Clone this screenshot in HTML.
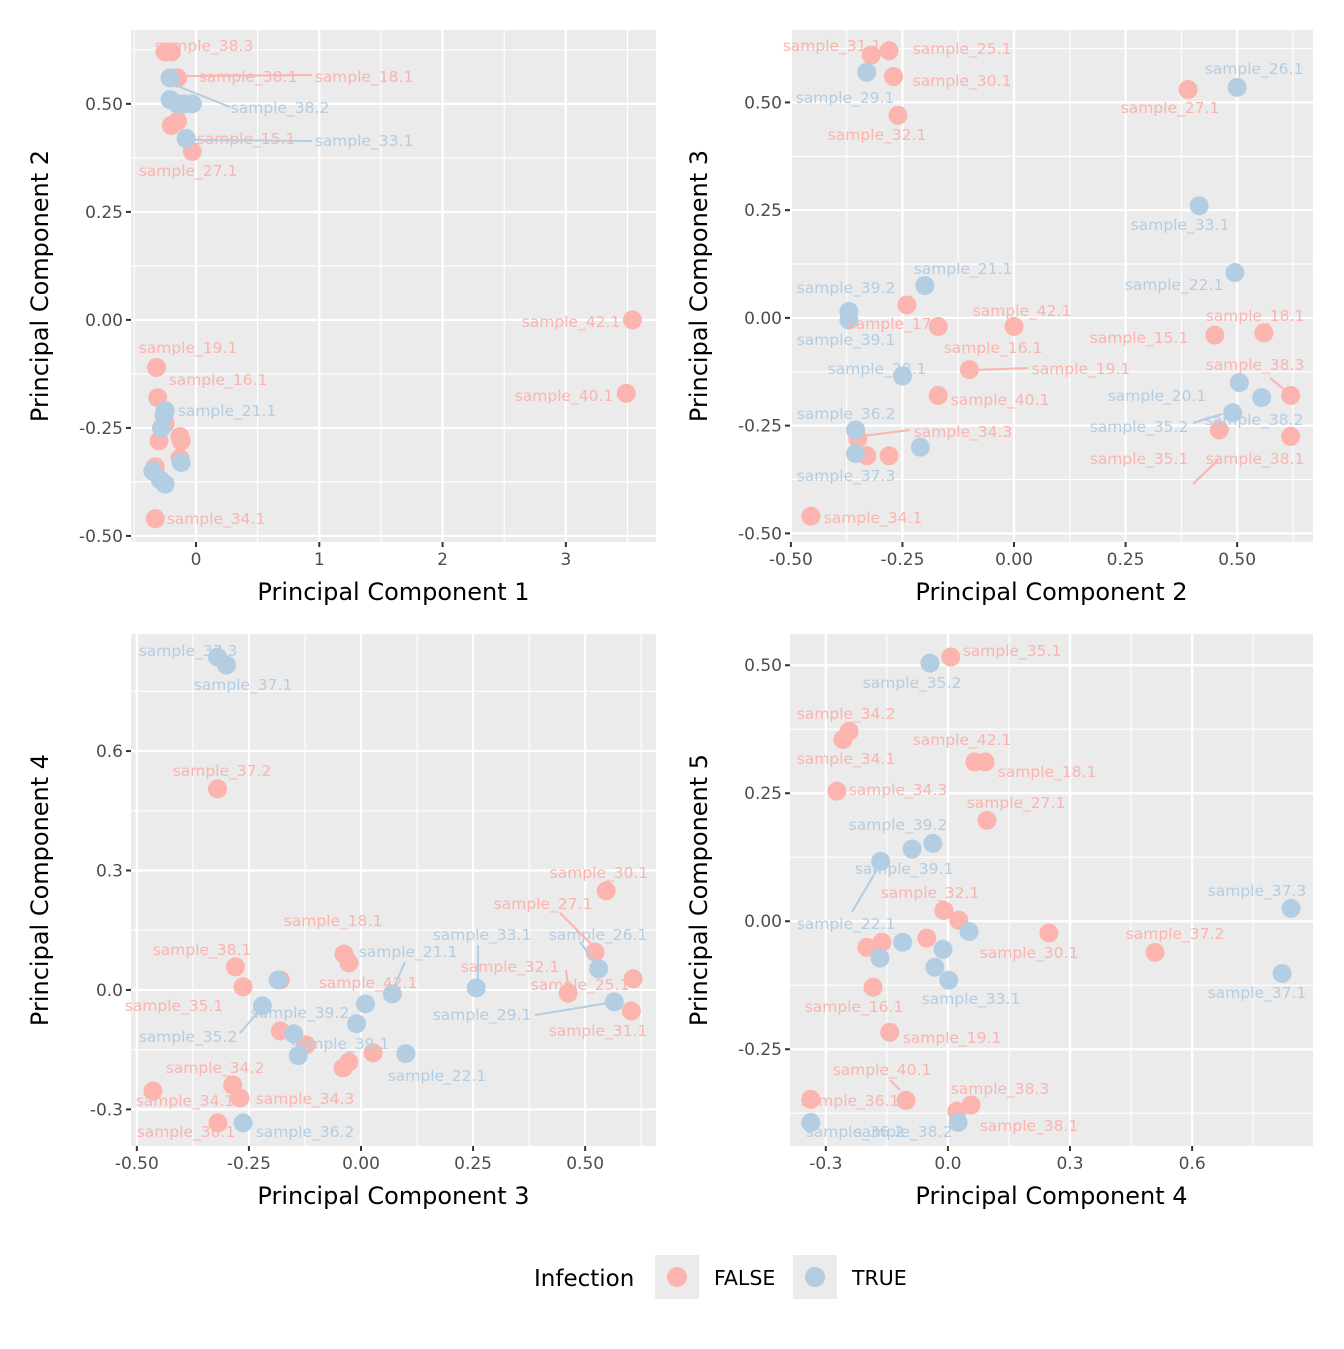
<!DOCTYPE html>
<html><head><meta charset="utf-8"><style>
body{margin:0;background:#fff;}
svg text{font-family:"DejaVu Sans","Liberation Sans",sans-serif;}
</style></head><body>
<svg id="chart" width="1344" height="1344" viewBox="0 0 1344 1344" xmlns="http://www.w3.org/2000/svg"></svg>
<script>
// ---- data (data units) ----
const p1FalseX=[-0.25,-0.2,-0.15,-0.2,-0.15,-0.08,-0.03,3.54,3.49,-0.32,-0.31,-0.25,-0.3,-0.13,-0.12,-0.13,-0.33,-0.33];
const p1FalseY=[0.62,0.62,0.56,0.45,0.46,0.42,0.39,0.0,-0.17,-0.11,-0.18,-0.24,-0.28,-0.27,-0.28,-0.32,-0.34,-0.46];
const p1TrueX=[-0.21,-0.21,-0.15,-0.1,-0.03,-0.08,-0.25,-0.26,-0.28,-0.12,-0.35,-0.29,-0.25];
const p1TrueY=[0.56,0.51,0.5,0.5,0.5,0.42,-0.21,-0.22,-0.25,-0.33,-0.35,-0.37,-0.38];

const p2FalseX=[-0.32,-0.28,-0.27,-0.26,0.39,-0.24,-0.17,0.0,0.45,0.56,-0.1,-0.17,0.62,0.62,0.46,-0.35,-0.33,-0.28,-0.455];
const p2FalseY=[0.61,0.62,0.56,0.47,0.53,0.03,-0.02,-0.02,-0.04,-0.035,-0.12,-0.18,-0.18,-0.275,-0.26,-0.28,-0.32,-0.32,-0.46];
const p2TrueX=[-0.33,0.5,0.415,0.495,-0.2,-0.37,-0.37,-0.25,0.505,0.555,0.49,-0.355,-0.21,-0.355];
const p2TrueY=[0.57,0.535,0.26,0.105,0.075,0.015,-0.005,-0.135,-0.15,-0.185,-0.22,-0.26,-0.3,-0.315];

const p3FalseX=[-0.32,0.547,0.522,0.607,0.603,0.462,-0.038,-0.027,-0.28,-0.263,-0.18,-0.18,-0.123,-0.027,-0.04,0.027,-0.464,-0.286,-0.27,-0.319];
const p3FalseY=[0.505,0.249,0.095,0.028,-0.053,-0.008,0.09,0.068,0.058,0.008,0.025,-0.103,-0.138,-0.181,-0.196,-0.158,-0.254,-0.239,-0.271,-0.334];
const p3TrueX=[-0.32,-0.3,-0.185,-0.22,0.01,0.07,-0.15,-0.14,-0.01,0.1,0.257,0.53,0.565,-0.263];
const p3TrueY=[0.836,0.816,0.025,-0.04,-0.035,-0.01,-0.11,-0.165,-0.085,-0.16,0.005,0.053,-0.03,-0.334];

const p4FalseX=[0.007,-0.243,-0.258,0.066,0.091,-0.273,0.096,-0.01,0.027,0.248,0.509,-0.199,-0.162,-0.052,-0.184,-0.143,-0.337,-0.103,0.022,0.057];
const p4FalseY=[0.516,0.371,0.355,0.311,0.311,0.254,0.197,0.021,0.002,-0.023,-0.061,-0.051,-0.041,-0.033,-0.129,-0.217,-0.348,-0.35,-0.371,-0.359];
const p4TrueX=[-0.044,-0.037,-0.088,-0.165,0.052,-0.111,-0.012,-0.167,-0.032,0.002,0.843,0.821,-0.337,0.025];
const p4TrueY=[0.504,0.152,0.141,0.117,-0.02,-0.041,-0.055,-0.072,-0.09,-0.115,0.025,-0.102,-0.393,-0.393];

const tickP1X=[0,1,2,3], tickP1XLab=["0","1","2","3"];
const tickQ=[-0.5,-0.25,0,0.25,0.5], tickQLab=["-0.50","-0.25","0.00","0.25","0.50"];
const tickT=[-0.3,0,0.3,0.6], tickTLab=["-0.3","0.0","0.3","0.6"];

// ---- labels (annotation pixel positions: [text, x, y, group]) ----
const lab1=[["sample_38.3",204,46,0],["sample_38.1",248,77,0],["sample_18.1",364,77,0],["sample_38.2",280,108,1],["sample_15.1",246,139,0],["sample_33.1",364,141,1],["sample_27.1",188,171,0],["sample_42.1",571,322,0],["sample_40.1",564,396,0],["sample_19.1",188,348,0],["sample_16.1",218,380,0],["sample_21.1",227,411,1],["sample_34.1",216,519,0]];
const lab2=[["sample_31.1",832,46,0],["sample_25.1",962,49,0],["sample_30.1",962,81,0],["sample_29.1",845,98,1],["sample_32.1",877,135,0],["sample_27.1",1170,108,0],["sample_26.1",1254,69,1],["sample_33.1",1180,225,1],["sample_21.1",963,269,1],["sample_22.1",1174,285,1],["sample_39.2",846,288,1],["sample_42.1",1022,311,0],["sample_17.1",897,324,0],["sample_18.1",1255,316,0],["sample_15.1",1139,338,0],["sample_39.1",846,340,1],["sample_16.1",993,348,0],["sample_19.1",1081,369,0],["sample_28.1",877,369,1],["sample_40.1",1000,400,0],["sample_20.1",1157,396,1],["sample_36.2",846,414,1],["sample_38.3",1255,365,0],["sample_38.2",1254,420,1],["sample_35.2",1139,427,1],["sample_34.3",963,432,0],["sample_35.1",1139,459,0],["sample_38.1",1255,459,0],["sample_37.3",846,476,1],["sample_34.1",873,518,0]];
const lab3=[["sample_37.3",188,651,1],["sample_37.1",243,685,1],["sample_37.2",222,771,0],["sample_30.1",599,873,0],["sample_27.1",543,904,0],["sample_18.1",333,921,0],["sample_33.1",482,935,1],["sample_26.1",598,935,1],["sample_38.1",202,950,0],["sample_21.1",408,952,1],["sample_32.1",510,967,0],["sample_42.1",368,983,0],["sample_25.1",580,985,0],["sample_35.1",174,1006,0],["sample_39.2",300,1013,1],["sample_29.1",482,1015,1],["sample_31.1",598,1031,0],["sample_35.2",188,1037,1],["sample_39.1",340,1044,1],["sample_22.1",437,1076,1],["sample_34.2",215,1068,0],["sample_34.1",185,1101,0],["sample_34.3",305,1099,0],["sample_36.1",186,1132,0],["sample_36.2",305,1132,1]];
const lab4=[["sample_35.1",1012,651,0],["sample_35.2",912,683,1],["sample_34.2",846,714,0],["sample_42.1",962,740,0],["sample_34.1",846,759,0],["sample_18.1",1047,772,0],["sample_34.3",898,790,0],["sample_27.1",1016,803,0],["sample_39.2",898,825,1],["sample_39.1",904,869,1],["sample_32.1",930,893,0],["sample_37.3",1257,891,1],["sample_22.1",846,924,1],["sample_37.2",1175,934,0],["sample_30.1",1029,953,0],["sample_37.1",1257,993,1],["sample_33.1",971,999,1],["sample_16.1",854,1007,0],["sample_19.1",952,1038,0],["sample_40.1",882,1070,0],["sample_38.3",1000,1089,0],["sample_36.1",850,1101,0],["sample_36.2",855,1132,1],["sample_38.2",903,1132,1],["sample_38.1",1029,1126,0]];
// repel segments (annotation pixels: x1,y1,x2,y2,group)
const segs=[[185,76,312,75,0],[175,85,230,107,1],[190,140,312,141,1],
[975,370,1028,368,0],[862,436,910,430,0],[1193,423,1222,414,1],[1193,484,1218,460,0],[1270,378,1285,390,0],
[560,913,592,945,0],[478,945,478,980,1],[395,985,405,962,1],[240,1033,260,1010,1],[566,970,568,985,0],[535,1015,608,1003,1],[580,942,595,962,1],
[852,912,878,868,1],[890,1080,900,1090,0]];

const COL=["#FBB4AE","#B3CDE3"];
const NS="http://www.w3.org/2000/svg";
const svg=document.getElementById('chart');
function mk(tag,attrs,parent){const e=document.createElementNS(NS,tag);for(const k in attrs)e.setAttribute(k,attrs[k]);(parent||svg).appendChild(e);return e;}

function panel(cfg){
  const g=mk('g',{});
  
  
  const L=cfg.l,T=cfg.t,W=cfg.w,H=cfg.h;
  const sx=v=>L+(v-cfg.xd[0])/(cfg.xd[1]-cfg.xd[0])*W;
  const sy=v=>T+H-(v-cfg.yd[0])/(cfg.yd[1]-cfg.yd[0])*H;
  const bg=mk('rect',{x:L,y:T,width:W,height:H,fill:'#EBEBEB'},g);
  
  
  function minors(t){const m=[];const s=t[1]-t[0];for(let i=-1;i<t.length;i++){m.push(t[0]+s*(i+0.5));}return m;}
  minors(cfg.xt).forEach(v=>{const x=sx(v);if(x>L&&x<L+W)mk('line',{x1:x,x2:x,y1:T,y2:T+H,stroke:'#fff','stroke-width':1.1},g);});
  minors(cfg.yt).forEach(v=>{const y=sy(v);if(y>T&&y<T+H)mk('line',{x1:L,x2:L+W,y1:y,y2:y,stroke:'#fff','stroke-width':1.1},g);});
  cfg.xt.forEach((v,i)=>{const x=sx(v);
    mk('line',{x1:x,x2:x,y1:T,y2:T+H,stroke:'#fff','stroke-width':2.2},g);
    mk('line',{x1:x,x2:x,y1:T+H,y2:T+H+5,stroke:'#333','stroke-width':2},g);
    const t=mk('text',{x:x,y:T+H+23,'text-anchor':'middle','font-size':17,fill:'#4D4D4D'},g);t.textContent=cfg.xl[i];
    
    });
  cfg.yt.forEach((v,i)=>{const y=sy(v);
    mk('line',{x1:L,x2:L+W,y1:y,y2:y,stroke:'#fff','stroke-width':2.2},g);
    mk('line',{x1:L-5,x2:L,y1:y,y2:y,stroke:'#333','stroke-width':2},g);
    const t=mk('text',{x:L-8,y:y+6,'text-anchor':'end','font-size':17,fill:'#4D4D4D'},g);t.textContent=cfg.yl[i];
    
    });
  const xt=mk('text',{x:L+W/2,y:T+H+58,'text-anchor':'middle','font-size':24,fill:'#000'},g);xt.textContent=cfg.xtitle;
  
  
  const ty=T+H/2;
  const yt=mk('text',{x:0,y:0,'text-anchor':'middle','font-size':24,fill:'#000',transform:`translate(${L-83},${ty}) rotate(-90)`},g);yt.textContent=cfg.ytitle;
  
  
  [[cfg.fx,cfg.fy,0],[cfg.tx,cfg.ty,1]].forEach(([xs,ys,k])=>{
    xs.forEach((v,i)=>{const c=mk('circle',{cx:sx(v),cy:sy(ys[i]),r:9.5,fill:COL[k]},g);
      
      });
  });
  cfg.lab.forEach(a=>{const t=mk('text',{x:a[1],y:a[2]+5,'text-anchor':'middle','font-size':15.5,fill:COL[a[3]]},g);t.textContent=a[0];
    
    });
}
panel({name:'panel-pc1-pc2',l:131,t:30,w:525,h:512,xd:[-0.527,3.731],yd:[-0.514,0.671],xt:tickP1X,xl:tickP1XLab,yt:tickQ,yl:tickQLab,xtitle:'Principal Component 1',ytitle:'Principal Component 2',fx:p1FalseX,fy:p1FalseY,tx:p1TrueX,ty:p1TrueY,lab:lab1});
panel({name:'panel-pc2-pc3',l:790,t:30,w:523,h:512,xd:[-0.502,0.670],yd:[-0.520,0.668],xt:tickQ,xl:tickQLab,yt:tickQ,yl:tickQLab,xtitle:'Principal Component 2',ytitle:'Principal Component 3',fx:p2FalseX,fy:p2FalseY,tx:p2TrueX,ty:p2TrueY,lab:lab2});
panel({name:'panel-pc3-pc4',l:131,t:634,w:525,h:512,xd:[-0.513,0.658],yd:[-0.392,0.894],xt:tickQ,xl:tickQLab,yt:tickT,yl:tickTLab,xtitle:'Principal Component 3',ytitle:'Principal Component 4',fx:p3FalseX,fy:p3FalseY,tx:p3TrueX,ty:p3TrueY,lab:lab3});
panel({name:'panel-pc4-pc5',l:790,t:634,w:523,h:512,xd:[-0.388,0.897],yd:[-0.439,0.561],xt:tickT,xl:tickTLab,yt:tickQ.slice(1),yl:tickQLab.slice(1),xtitle:'Principal Component 4',ytitle:'Principal Component 5',fx:p4FalseX,fy:p4FalseY,tx:p4TrueX,ty:p4TrueY,lab:lab4});
segs.forEach(s=>{const l=mk('line',{x1:s[0],y1:s[1],x2:s[2],y2:s[3],stroke:COL[s[4]],'stroke-width':2});
  
  });

// legend
const lg=mk('g',{});


const lt=mk('text',{x:534,y:1286,'font-size':23,fill:'#000'},lg);lt.textContent='Infection';


[["FALSE",655,0],["TRUE",793,1]].forEach(([n,x,k])=>{
  const e=mk('g',{},lg);
  
  
  mk('rect',{x:x,y:1255,width:44,height:44,fill:'#EBEBEB'},e);
  mk('circle',{cx:x+22,cy:1277,r:10,fill:COL[k]},e);
  const t=mk('text',{x:x+59,y:1285,'font-size':20.5,fill:'#000'},e);t.textContent=n;
});
</script>
</body></html>
